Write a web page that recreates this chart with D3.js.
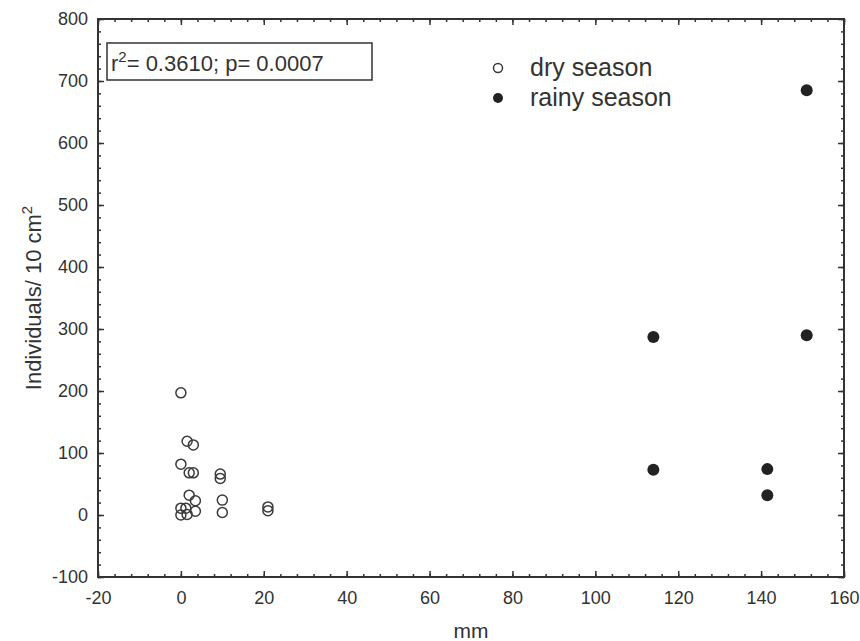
<!DOCTYPE html>
<html><head><meta charset="utf-8">
<script src="https://cdn.jsdelivr.net/npm/d3@7"></script>
<style>body{margin:0;background:#fff}svg{display:block}</style>
</head><body>
<script>
const dryX = [0, 1.5, 3, 0, 2, 3, 9.5, 9.5, 2, 3.5, 10, 0, 1.2, 0, 1.5, 3.5, 10, 21, 21];
const dryY = [197, 119, 113, 82, 68, 68, 66, 59, 32, 23, 24, 11, 11, 0, 1, 6, 4, 13, 7];
const rainyX = [114, 114, 141.5, 141.5, 151, 151];
const rainyY = [287, 73, 74, 32, 290, 685];
const xTicks = [-20, 0, 20, 40, 60, 80, 100, 120, 140, 160];
const yTicks = [-100, 0, 100, 200, 300, 400, 500, 600, 700, 800];
const statText = ["r", "2", "= 0.3610; p= 0.0007"];
const legendLabels = ["dry season", "rainy season"];

const W = 860, H = 641;
const L = 98, R = 844, T = 19, B = 577;
const svg = d3.select("body").append("svg").attr("width", W).attr("height", H);
const x = d3.scaleLinear().domain([-20, 160]).range([L, R]);
const y = d3.scaleLinear().domain([-100, 800]).range([B, T]);
const col = "#333";
const font = "Liberation Sans, Arial, sans-serif";
const fmt = d => String(d);

const xMinor = d3.range(-20, 160.001, 4);
const yMinor = d3.range(-100, 800.001, 20);

function axis(gen, transform) {
  const g = svg.append("g").attr("transform", transform).call(gen);
  g.select(".domain").remove();
  g.selectAll("line").attr("stroke", col).attr("stroke-width", 1.5);
  return g;
}
axis(d3.axisBottom(x).tickValues(xMinor).tickSize(-3).tickFormat(""), `translate(0,${B})`);
const gxb = axis(d3.axisBottom(x).tickValues(xTicks).tickSize(-6).tickPadding(14).tickFormat(fmt), `translate(0,${B})`);
gxb.selectAll("text").attr("font-family", font).attr("font-size", 18).attr("fill", col).attr("dy", "0.71em");
axis(d3.axisTop(x).tickValues(xMinor).tickSize(-3).tickFormat(""), `translate(0,${T})`);
axis(d3.axisTop(x).tickValues(xTicks).tickSize(-6).tickFormat(""), `translate(0,${T})`);
axis(d3.axisLeft(y).tickValues(yMinor).tickSize(-3).tickFormat(""), `translate(${L},0)`);
const gyl = axis(d3.axisLeft(y).tickValues(yTicks).tickSize(-6).tickPadding(10).tickFormat(fmt), `translate(${L},0)`);
gyl.selectAll("text").attr("font-family", font).attr("font-size", 18).attr("fill", col);
axis(d3.axisRight(y).tickValues(yMinor).tickSize(-3).tickFormat(""), `translate(${R},0)`);
axis(d3.axisRight(y).tickValues(yTicks).tickSize(-6).tickFormat(""), `translate(${R},0)`);

svg.append("rect").attr("x", L).attr("y", T).attr("width", R - L).attr("height", B - T)
  .attr("fill", "none").attr("stroke", col).attr("stroke-width", 2);

const dry = dryX.map((v, i) => [v, dryY[i]]);
const rainy = rainyX.map((v, i) => [v, rainyY[i]]);
svg.append("g").selectAll("circle").data(dry).join("circle")
  .attr("cx", d => x(d[0])).attr("cy", d => y(d[1])).attr("r", 5)
  .attr("fill", "none").attr("stroke", "#3a3a3a").attr("stroke-width", 1.5);
svg.append("g").selectAll("circle").data(rainy).join("circle")
  .attr("cx", d => x(d[0])).attr("cy", d => y(d[1])).attr("r", 6)
  .attr("fill", "#222");

svg.append("rect").attr("x", 107).attr("y", 43).attr("width", 265).attr("height", 37)
  .attr("fill", "none").attr("stroke", col).attr("stroke-width", 1.5);
const st = svg.append("text").attr("x", 111).attr("y", 71).attr("font-family", font)
  .attr("font-size", 22).attr("fill", col);
st.append("tspan").text(statText[0]);
st.append("tspan").attr("dy", -9).attr("font-size", 15).text(statText[1]);
st.append("tspan").attr("dy", 9).text(statText[2]);

const lg = svg.append("g");
lg.append("circle").attr("cx", 498).attr("cy", 68).attr("r", 4.5).attr("fill", "none").attr("stroke", "#3a3a3a").attr("stroke-width", 1.5);
lg.append("circle").attr("cx", 498).attr("cy", 98).attr("r", 5).attr("fill", "#222");
lg.selectAll("text").data(legendLabels).join("text")
  .attr("x", 530).attr("y", (d, i) => 76 + i * 30).attr("font-family", font).attr("font-size", 25).attr("fill", col)
  .text(d => d);

svg.append("text").attr("x", 471).attr("y", 638).attr("text-anchor", "middle")
  .attr("font-family", font).attr("font-size", 21).attr("fill", col).text("mm");
const yl = svg.append("text").attr("transform", "translate(41,298) rotate(-90)").attr("text-anchor", "middle")
  .attr("font-family", font).attr("font-size", 22).attr("fill", col);
yl.append("tspan").text("Individuals/ 10 cm");
yl.append("tspan").attr("dy", -9).attr("font-size", 15).text("2");
</script>
</body></html>
